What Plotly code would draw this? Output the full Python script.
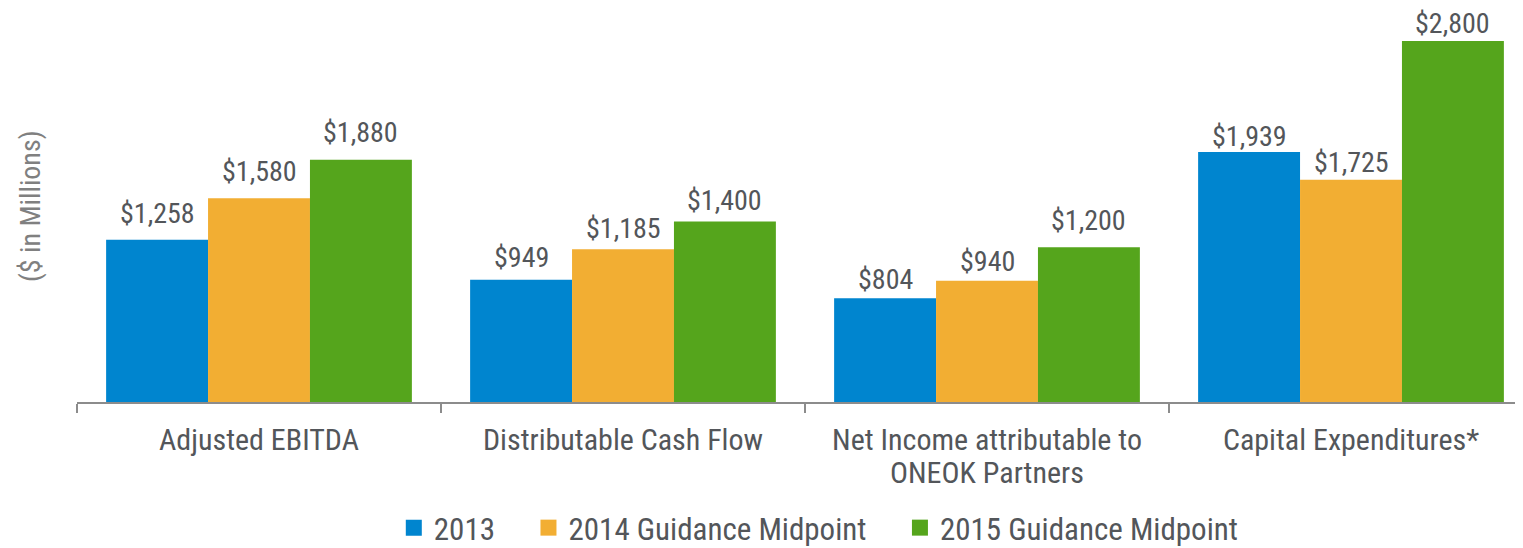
import plotly.graph_objects as go

categories = ["Adjusted EBITDA", "Distributable Cash Flow",
              "Net Income attributable to<br>ONEOK Partners", "Capital Expenditures*"]
series_names = ["2013", "2014 Guidance Midpoint", "2015 Guidance Midpoint"]
values_2013 = [1258, 949, 804, 1939]
values_2014 = [1580, 1185, 940, 1725]
values_2015 = [1880, 1400, 1200, 2800]
series_values = [values_2013, values_2014, values_2015]
colors = ["#0085CF", "#F2AE33", "#55A51C"]

# style: vertical pixel offset of each value label above its bar (per category, per series)
label_shift = [[26, 27, 27], [22, 21, 21], [19, 19, 27], [16, 17, 18]]

FONT = "Liberation Sans Narrow, Arial Narrow, Roboto Condensed, DejaVu Sans Condensed, sans-serif"
TEXT = "#53565A"
bw = 0.28  # bar width in category units
NB = "\u00a0"
legend_pad = [NB * 4, NB * 4, ""]

fig = go.Figure()
annotations = []
for j, (name, vals, col) in enumerate(zip(series_names, series_values, colors)):
    xs = [i + (j - 1) * bw for i in range(len(categories))]
    fig.add_trace(go.Bar(x=xs, y=vals, width=bw, marker=dict(color=col, line=dict(width=0)),
                         name=name, showlegend=False, hoverinfo="y"))
    fig.add_trace(go.Scatter(x=[None], y=[None], mode="markers", name=name + legend_pad[j],
                             marker=dict(symbol="square", size=17, color=col)))
    for i, (x, v) in enumerate(zip(xs, vals)):
        annotations.append(dict(x=x, y=v, xref="x", yref="y", text=f"${v:,}", showarrow=False,
                                yanchor="middle", yshift=label_shift[i][j],
                                font=dict(family=FONT, size=28, color=TEXT)))

# category labels: first line as tick label, further lines as annotations (tighter line spacing)
ticktext = []
for i, c in enumerate(categories):
    lines = c.split("<br>")
    ticktext.append(lines[0])
    for k, extra in enumerate(lines[1:], start=1):
        annotations.append(dict(x=i, xref="x", yref="paper", y=0, yanchor="middle",
                                yshift=-38 - 32 * k, text=extra, showarrow=False,
                                font=dict(family=FONT, size=30, color=TEXT)))

annotations.append(dict(xref="paper", yref="paper", x=-0.0325, y=0.5, text="($ in Millions)",
                        textangle=-90, showarrow=False, xanchor="center", yanchor="middle",
                        font=dict(family=FONT, size=28, color="#808080")))

# page body has an 8px margin, so the figure is 8px smaller and margins are shifted
fig.update_layout(
    width=1515, height=540,
    margin=dict(l=69, r=0, t=2, b=146, autoexpand=False),
    plot_bgcolor="white", paper_bgcolor="white",
    font=dict(family=FONT, color=TEXT),
    annotations=annotations,
    legend=dict(orientation="h", x=0.513, xanchor="center", y=-0.3214, yanchor="middle",
                font=dict(family=FONT, size=31, color=TEXT), itemwidth=30),
    xaxis=dict(range=[-0.5, -0.5 + 1446 / 364], tickvals=list(range(len(categories))),
               ticktext=ticktext, ticks="", showgrid=False, zeroline=False,
               showline=True, linecolor="#8C8C8C", linewidth=1.5,
               tickfont=dict(family=FONT, size=30, color=TEXT), ticklabelstandoff=10,
               minor=dict(tick0=-0.5, dtick=1, ticks="outside", ticklen=9,
                          tickcolor="#8C8C8C", tickwidth=1.5, showgrid=False)),
    yaxis=dict(range=[0, 3041], visible=False, showgrid=False, zeroline=False),
)

fig.write_html("out.html")
